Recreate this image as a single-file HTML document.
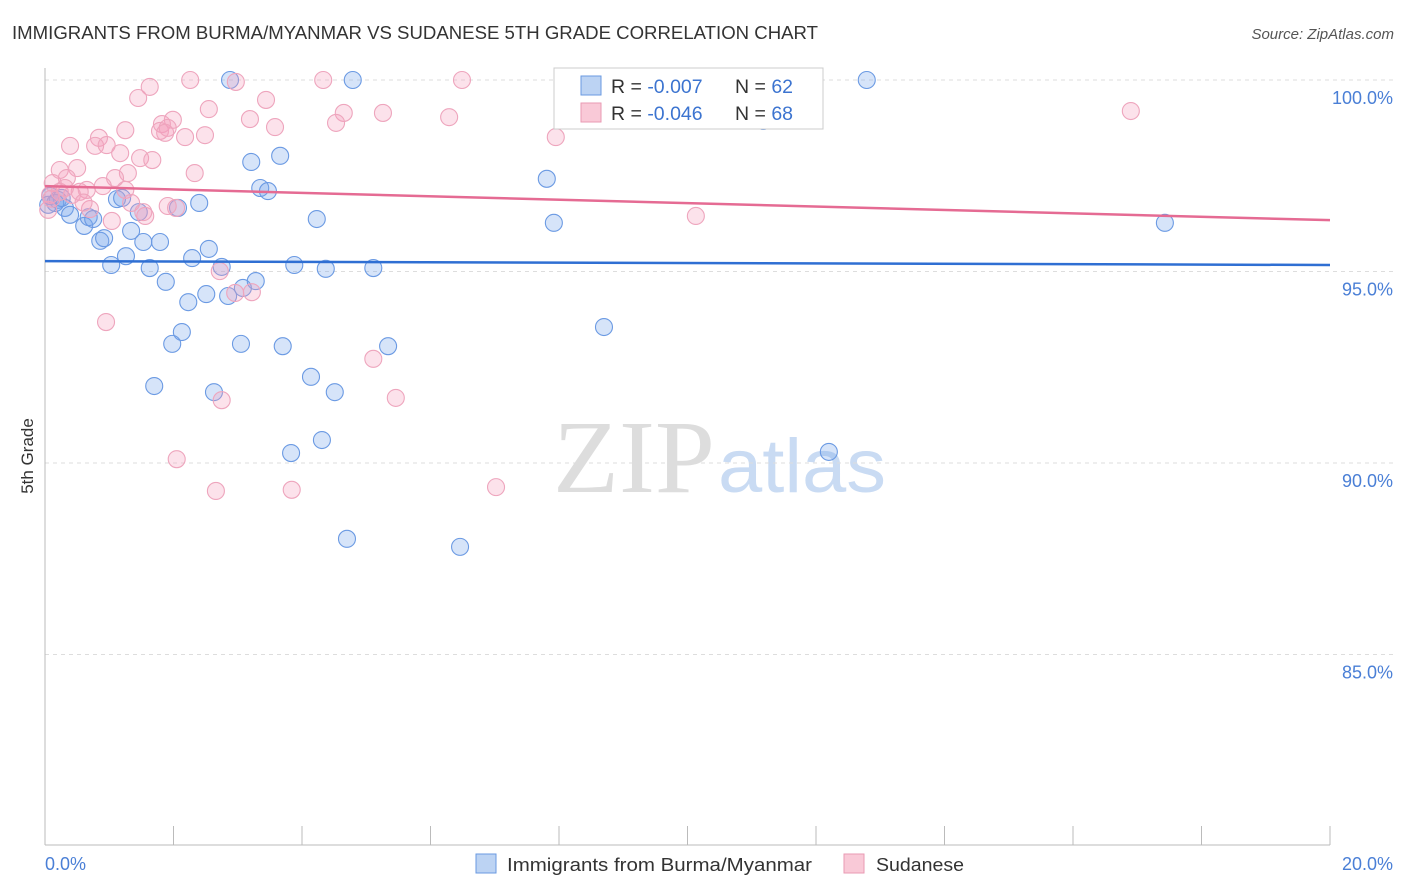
<!DOCTYPE html>
<html><head><meta charset="utf-8">
<style>
body{margin:0;background:#fff;font-family:"Liberation Sans",sans-serif;}
#wrap{position:relative;width:1406px;height:892px;overflow:hidden;}
</style></head>
<body>
<div id="wrap">
<svg id="chart" width="1406" height="892" xmlns="http://www.w3.org/2000/svg">
<text x="12" y="39" font-size="18" fill="#333" textLength="806" lengthAdjust="spacingAndGlyphs">IMMIGRANTS FROM BURMA/MYANMAR VS SUDANESE 5TH GRADE CORRELATION CHART</text>
<text x="1394" y="39" font-size="15" fill="#555" font-style="italic" text-anchor="end">Source: ZipAtlas.com</text>
<text x="553" y="492" font-size="104" fill="#ddd" textLength="162" lengthAdjust="spacingAndGlyphs" font-family="Liberation Serif,serif">ZIP</text>
<text x="718" y="492" font-size="76" fill="#c9dbf3" textLength="168" lengthAdjust="spacingAndGlyphs">atlas</text>
<g id="grid"></g>
<line x1="45" y1="68" x2="45" y2="845" stroke="#bbb"/>
<line x1="45" y1="845" x2="1330" y2="845" stroke="#bbb"/>
<g id="xticks"></g>
<text transform="translate(33,456) rotate(-90)" font-size="17" fill="#333" text-anchor="middle">5th Grade</text>
<text x="45" y="870" font-size="18" fill="#4a7fd6">0.0%</text>
<text x="1393" y="870" font-size="18" fill="#4a7fd6" text-anchor="end">20.0%</text>
<g id="pts"></g>
<g id="lines"></g>
<g>
<rect x="554" y="68" width="269" height="61" fill="#fff" stroke="#ccc"/>
<rect x="581" y="76" width="20" height="19" fill="#bcd3f3" stroke="#6a9ae0"/>
<rect x="581" y="103" width="20" height="19" fill="#f9c9d7" stroke="#e99ab3"/>
<text x="611" y="93" font-size="19.5" fill="#333">R = <tspan fill="#3c74d0">-0.007</tspan></text>
<text x="735" y="93" font-size="19.5" fill="#333">N = <tspan fill="#3c74d0">62</tspan></text>
<text x="611" y="120" font-size="19.5" fill="#333">R = <tspan fill="#3c74d0">-0.046</tspan></text>
<text x="735" y="120" font-size="19.5" fill="#333">N = <tspan fill="#3c74d0">68</tspan></text>
</g>
<g>
<rect x="476" y="854" width="20" height="19" fill="#bcd3f3" stroke="#6a9ae0"/>
<text x="507" y="871" font-size="18.5" fill="#333" textLength="305" lengthAdjust="spacingAndGlyphs">Immigrants from Burma/Myanmar</text>
<rect x="844" y="854" width="20" height="19" fill="#f9c9d7" stroke="#e99ab3"/>
<text x="876" y="871" font-size="18.5" fill="#333" textLength="88" lengthAdjust="spacingAndGlyphs">Sudanese</text>
</g>
</svg>
</div>
<script>
const yTicks=[100,95,90,85];
const yTickLabels=["100.0%","95.0%","90.0%","85.0%"];
const xTicks=[0,2,4,6,8,10,12,14,16,18,20];
const blueX=[2.88,4.79,12.79,11.18,3.66,3.21,7.81,3.35,3.47,0.08,0.20,0.31,1.12,1.20,2.40,2.07,1.46,0.39,0.61,0.68,0.75,4.23,7.92,17.43,1.34,0.86,0.92,1.53,1.79,2.55,2.29,1.26,1.03,1.63,2.75,3.88,4.37,5.11,1.88,3.28,3.08,2.51,2.85,2.23,2.13,8.70,1.98,3.05,3.70,5.34,4.14,1.70,2.63,4.51,4.31,3.83,12.20,4.70,6.46,0.16,0.26,0.05];
const blueY=[100.0,100.0,100.0,98.93,98.02,97.86,97.42,97.18,97.10,96.97,96.87,96.66,96.89,96.92,96.79,96.66,96.55,96.48,96.19,96.42,96.37,96.37,96.27,96.27,96.06,95.80,95.87,95.77,95.77,95.59,95.35,95.40,95.17,95.09,95.12,95.17,95.07,95.09,94.73,94.75,94.57,94.41,94.36,94.20,93.42,93.55,93.11,93.11,93.05,93.05,92.25,92.01,91.85,91.85,90.60,90.26,90.29,88.02,87.81,96.79,96.92,96.74];
const pinkX=[2.26,4.33,6.49,2.97,1.63,1.45,3.44,2.55,5.26,16.90,4.65,6.29,3.19,4.53,1.99,1.82,3.58,2.18,2.49,7.95,1.25,0.84,0.78,0.39,0.96,1.17,1.48,1.67,1.79,1.91,1.87,2.33,1.29,1.09,0.23,0.50,0.34,0.12,0.65,0.90,1.25,0.08,0.23,0.54,0.42,1.34,0.70,1.56,1.04,0.05,2.04,10.13,2.72,2.96,3.22,5.11,5.46,0.95,2.75,2.05,2.66,3.84,7.02,0.31,1.53,1.91,0.10,0.60];
const pinkY=[100.0,100.0,100.0,99.95,99.82,99.53,99.48,99.24,99.14,99.19,99.14,99.03,98.98,98.88,98.96,98.85,98.77,98.51,98.56,98.51,98.69,98.49,98.28,98.28,98.30,98.09,97.96,97.91,98.67,98.75,98.62,97.57,97.57,97.44,97.65,97.70,97.44,97.31,97.13,97.23,97.13,97.00,97.08,97.08,97.00,96.79,96.63,96.45,96.32,96.61,96.66,96.45,95.01,94.44,94.46,92.72,91.70,93.68,91.64,90.10,89.27,89.30,89.37,97.18,96.55,96.71,96.90,96.80];
const blueTrend=[95.27,95.17];
const pinkTrend=[97.23,96.34];
const NS="http://www.w3.org/2000/svg";
function sx(v){return 45+v/20*1285;}
function sy(v){return 80+(100-v)*38.3;}
function mk(t,a,p){const e=document.createElementNS(NS,t);for(const k in a)e.setAttribute(k,a[k]);p.appendChild(e);return e;}
const grid=document.getElementById('grid');
yTicks.forEach((t,i)=>{
  const l=mk('line',{x1:45,x2:1393,y1:sy(t),y2:sy(t),stroke:'#ddd','stroke-dasharray':'4,4'},grid);
  
  
  const tx=mk('text',{x:1393,y:sy(t)+24,'font-size':18,fill:'#4a7fd6','text-anchor':'end'},grid);
  tx.textContent=yTickLabels[i];
  
  
});
const xt=document.getElementById('xticks');
xTicks.forEach(t=>{
  const l=mk('line',{x1:sx(t),x2:sx(t),y1:826,y2:845,stroke:'#bbb'},xt);
  
  
});
const pts=document.getElementById('pts');
blueX.forEach((x,i)=>{
  const c=mk('circle',{cx:sx(x),cy:sy(blueY[i]),r:8.5,fill:'rgba(120,165,235,0.3)',stroke:'#6b9ae3','stroke-width':1.1},pts);
  
  
});
pinkX.forEach((x,i)=>{
  const c=mk('circle',{cx:sx(x),cy:sy(pinkY[i]),r:8.5,fill:'rgba(245,160,190,0.3)',stroke:'#eea5bd','stroke-width':1.1},pts);
  
  
});
const ln=document.getElementById('lines');
const b=mk('line',{x1:sx(0),x2:sx(20),y1:sy(blueTrend[0]),y2:sy(blueTrend[1]),stroke:'#2f6fd3','stroke-width':2.5},ln);


const p=mk('line',{x1:sx(0),x2:sx(20),y1:sy(pinkTrend[0]),y2:sy(pinkTrend[1]),stroke:'#e56b93','stroke-width':2.5},ln);


</script>
</body></html>
